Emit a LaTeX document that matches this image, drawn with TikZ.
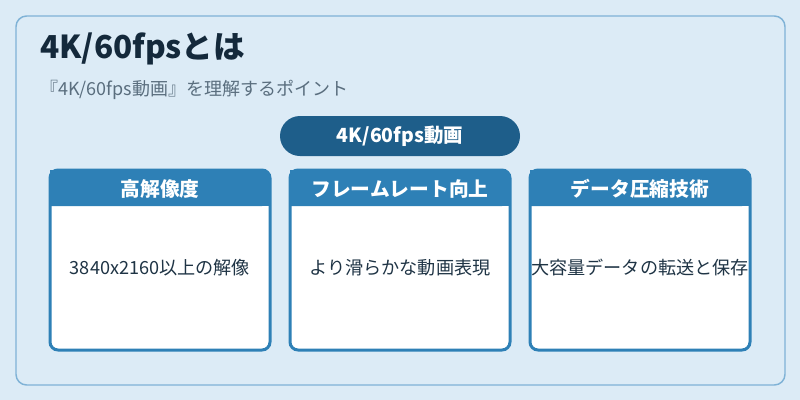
\documentclass[tikz,border=0pt]{standalone}
\usepackage{fontspec}
\setmainfont{Noto Sans CJK JP}
\definecolor{bgc}{HTML}{DCEBF6}
\definecolor{framec}{HTML}{7FB2D6}
\definecolor{pillc}{HTML}{1E5E8A}
\definecolor{cardc}{HTML}{2E80B6}
\definecolor{titlec}{HTML}{14293B}
\definecolor{subc}{HTML}{5A6E7E}
\definecolor{bodyc}{HTML}{1F3445}
\tikzset{
  cardbox/.style={draw=cardc, line width=2.25pt, fill=white, rounded corners=6pt},
  headtext/.style={text=white, font=\fontsize{14.8}{16}\selectfont\bfseries, anchor=center},
  bodytext/.style={text=bodyc, font=\fontsize{13.6}{15}\selectfont, anchor=center},
}
\begin{document}
\begin{tikzpicture}[x=0.75pt,y=-0.75pt]
\useasboundingbox (0,0) rectangle (800,400);
\fill[bgc] (0,0) rectangle (800,400);
\draw[framec, line width=1.1pt, fill=bgc, rounded corners=8pt] (16,16) rectangle (785,385);
\node[anchor=base west, inner sep=0, text=titlec, font=\fontsize{23.7}{26}\selectfont\bfseries] (title) at (40,58) {4K/60fpsとは};
\node[anchor=base west, inner sep=0, text=subc, font=\fontsize{13.5}{15}\selectfont] (sub) at (40,95) {『4K/60fps動画』を理解するポイント};
\node[fill=pillc, rounded corners=15pt, minimum width=180pt, minimum height=30pt, inner sep=0, text=white, font=\fontsize{14.6}{16}\selectfont\bfseries] (pill) at (400,136) {4K/60fps動画};
\foreach \x/\h/\b [count=\i] in {50/高解像度/3840x2160以上の解像, 290/フレームレート向上/より滑らかな動画表現, 530/データ圧縮技術/大容量データの転送と保存}{
  \draw[cardbox] (\x,170) rectangle ++(220,180);
  \fill[cardc, rounded corners=6pt] (\x,170) -- ++(220,0) -- ++(0,36) [sharp corners] -- ++(-220,0) -- cycle;
  \fill[cardc] (\x,195) rectangle ++(220,11);
  \node[headtext] (h\i) at (\x+110,189) {\h};
  \node[bodytext] (b\i) at (\x+110,268) {\b};
}
\end{tikzpicture}
\end{document}
